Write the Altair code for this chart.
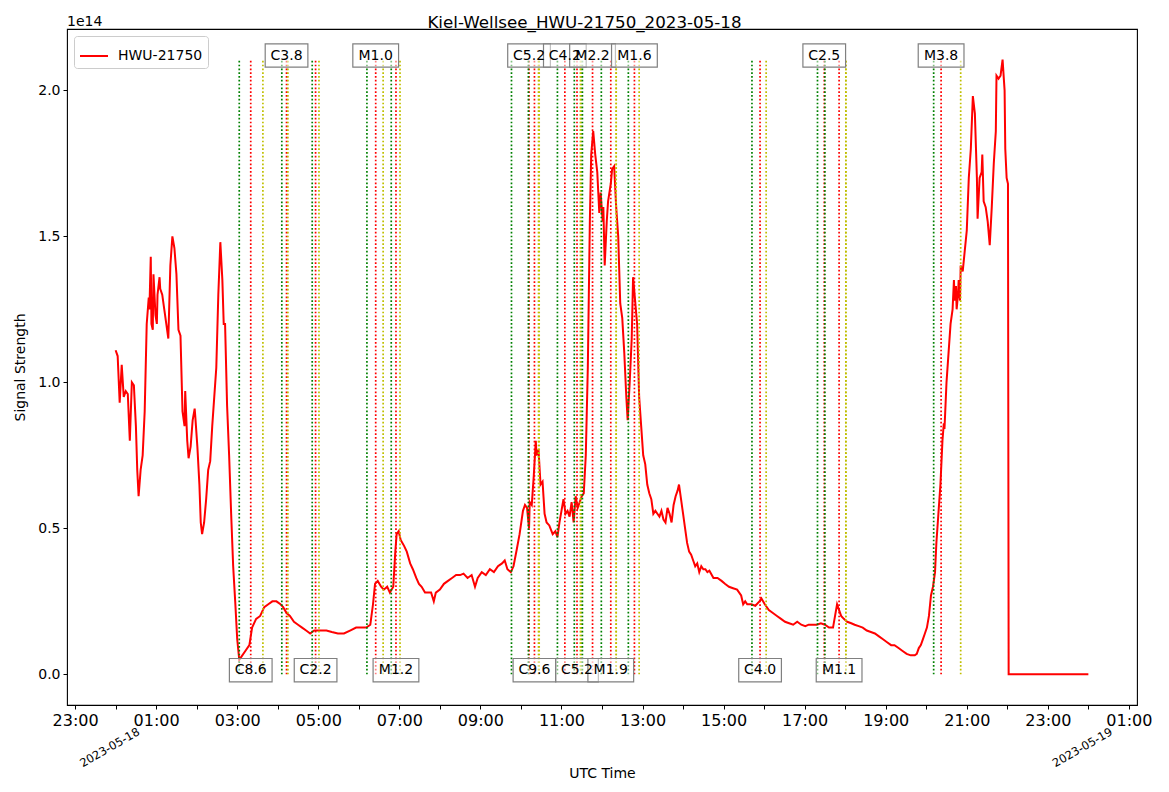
import altair as alt
import pandas as pd

# ---------------- data ----------------
# signal: minutes after 2023-05-18 00:00 UTC, value in units of 1e14
sig_min = [0, 3, 6, 9, 12, 15, 18, 21, 24, 27, 30, 32, 34, 37, 40, 43, 46, 49, 50, 52,
           53, 55, 56, 59, 61, 62, 65, 66, 69, 72, 75, 78, 81, 84, 87, 90, 93, 96, 99, 102,
           103, 106, 108, 111, 114, 117, 118, 121, 124, 126, 128, 131, 134, 137, 140, 143, 146, 149, 152, 155,
           158, 160, 162, 165, 168, 171, 174, 177, 180, 183, 186, 192, 198, 202, 208, 214, 220, 226, 232, 238,
           244, 248, 253, 258, 264, 270, 276, 282, 288, 294, 303, 312, 320, 329, 338, 347, 356, 365, 371, 377,
           381, 384, 388, 393, 397, 402, 406, 411, 414, 416, 419, 422, 427, 431, 436, 440, 445, 449, 453, 458,
           462, 467, 471, 474, 480, 486, 492, 498, 504, 510, 515, 521, 527, 532, 536, 542, 548, 554, 560, 566,
           572, 576, 580, 585, 589, 594, 598, 603, 606, 609, 612, 613, 616, 619, 622, 623, 626, 629, 632, 635,
           638, 642, 647, 651, 654, 657, 660, 663, 666, 669, 672, 675, 678, 681, 684, 687, 690, 693, 696, 699,
           702, 704, 707, 710, 713, 716, 718, 721, 722, 724, 727, 729, 733, 735, 738, 741, 744, 747, 750, 753,
           756, 758, 761, 764, 766, 769, 772, 775, 778, 781, 784, 787, 790, 793, 796, 799, 802, 805, 808, 811,
           814, 817, 820, 823, 826, 829, 832, 834, 837, 840, 843, 846, 849, 852, 855, 858, 861, 864, 867, 870,
           873, 876, 879, 885, 891, 897, 902, 908, 914, 920, 926, 929, 932, 935, 941, 947, 953, 956, 961, 967,
           973, 979, 985, 991, 997, 1003, 1009, 1015, 1021, 1026, 1032, 1038, 1044, 1050, 1056, 1062, 1065, 1068, 1071, 1074,
           1078, 1083, 1089, 1094, 1100, 1106, 1112, 1118, 1124, 1130, 1136, 1142, 1148, 1153, 1159, 1165, 1171, 1177, 1183, 1186,
           1189, 1192, 1195, 1198, 1201, 1204, 1207, 1210, 1213, 1215, 1218, 1221, 1224, 1226, 1227, 1230, 1233, 1236, 1239, 1241,
           1242, 1244, 1245, 1247, 1248, 1250, 1251, 1254, 1257, 1260, 1263, 1266, 1269, 1272, 1275, 1276, 1279, 1282, 1283, 1285,
           1288, 1291, 1294, 1297, 1300, 1303, 1304, 1307, 1310, 1313, 1316, 1317, 1319, 1321, 1322, 1440]
sig_val = [1.11, 1.09, 0.93, 1.06, 0.95, 0.97, 0.96, 0.80, 1.00, 0.99, 0.85, 0.70, 0.61, 0.70, 0.75, 0.90, 1.20, 1.29, 1.25, 1.43,
           1.20, 1.18, 1.37, 1.23, 1.20, 1.30, 1.36, 1.32, 1.30, 1.25, 1.20, 1.15, 1.40, 1.50, 1.46, 1.37, 1.18, 1.16, 0.90, 0.85,
           0.97, 0.80, 0.74, 0.78, 0.87, 0.91, 0.88, 0.78, 0.65, 0.52, 0.48, 0.52, 0.60, 0.70, 0.73, 0.85, 0.95, 1.05, 1.30, 1.48,
           1.35, 1.20, 1.20, 0.92, 0.75, 0.55, 0.37, 0.25, 0.12, 0.05, 0.06, 0.08, 0.10, 0.16, 0.19, 0.20, 0.23, 0.24, 0.25, 0.25,
           0.24, 0.23, 0.21, 0.20, 0.18, 0.17, 0.16, 0.15, 0.14, 0.15, 0.15, 0.15, 0.145, 0.14, 0.14, 0.15, 0.16, 0.16, 0.16, 0.17,
           0.24, 0.31, 0.32, 0.30, 0.29, 0.30, 0.28, 0.30, 0.42, 0.48, 0.49, 0.46, 0.44, 0.42, 0.38, 0.36, 0.33, 0.31, 0.30, 0.28,
           0.28, 0.28, 0.25, 0.28, 0.29, 0.31, 0.32, 0.33, 0.34, 0.34, 0.345, 0.33, 0.34, 0.30, 0.33, 0.35, 0.34, 0.36, 0.35, 0.37,
           0.38, 0.39, 0.36, 0.35, 0.37, 0.43, 0.48, 0.56, 0.58, 0.57, 0.50, 0.59, 0.58, 0.68, 0.80, 0.75, 0.77, 0.65, 0.66, 0.55,
           0.52, 0.51, 0.48, 0.49, 0.47, 0.52, 0.56, 0.60, 0.55, 0.56, 0.54, 0.59, 0.52, 0.61, 0.57, 0.59, 0.61, 0.62, 0.75, 1.05,
           1.55, 1.78, 1.86, 1.78, 1.72, 1.58, 1.65, 1.55, 1.60, 1.40, 1.55, 1.62, 1.68, 1.73, 1.74, 1.60, 1.50, 1.27, 1.22, 1.10,
           0.95, 0.87, 1.00, 1.15, 1.36, 1.28, 1.20, 0.95, 0.85, 0.75, 0.72, 0.65, 0.62, 0.60, 0.55, 0.56, 0.55, 0.54, 0.56, 0.53,
           0.52, 0.57, 0.55, 0.52, 0.58, 0.61, 0.63, 0.65, 0.60, 0.55, 0.50, 0.45, 0.42, 0.41, 0.39, 0.37, 0.38, 0.35, 0.37, 0.36,
           0.36, 0.35, 0.355, 0.33, 0.33, 0.32, 0.31, 0.30, 0.295, 0.29, 0.27, 0.24, 0.25, 0.24, 0.24, 0.235, 0.25, 0.26, 0.24, 0.22,
           0.21, 0.20, 0.19, 0.18, 0.175, 0.17, 0.18, 0.17, 0.165, 0.17, 0.17, 0.17, 0.175, 0.17, 0.16, 0.16, 0.20, 0.24, 0.22, 0.20,
           0.19, 0.18, 0.175, 0.17, 0.165, 0.16, 0.15, 0.145, 0.14, 0.13, 0.12, 0.11, 0.10, 0.10, 0.09, 0.08, 0.07, 0.065, 0.065, 0.07,
           0.09, 0.10, 0.12, 0.14, 0.16, 0.20, 0.27, 0.30, 0.35, 0.45, 0.55, 0.65, 0.80, 0.86, 0.84, 1.00, 1.10, 1.20, 1.25, 1.35,
           1.28, 1.33, 1.25, 1.30, 1.35, 1.28, 1.40, 1.38, 1.45, 1.52, 1.70, 1.80, 1.98, 1.92, 1.70, 1.56, 1.70, 1.72, 1.78, 1.62,
           1.60, 1.55, 1.47, 1.60, 1.75, 1.86, 2.05, 2.04, 2.05, 2.105, 2.00, 1.80, 1.70, 1.68, 0.00, 0.00]

# flare events (UTC, 2023-05-18)
ev_label = ["C8.6", "C3.8", "C2.2", "M1.0", "M1.2", "C5.2", "C9.6", "C4.2",
            "C5.2", "M2.2", "M1.9", "M1.6", "C4.0", "C2.5", "M1.1", "M3.8"]
ev_start = ["03:03", "04:06", "04:51", "06:12", "06:48", "09:46", "10:11", "10:54",
            "11:19", "11:31", "11:59", "12:39", "15:42", "17:19", "17:30", "20:11"]
ev_peak = ["03:20", "04:13", "04:56", "06:25", "06:55", "10:12", "10:20", "11:05",
           "11:23", "11:46", "12:13", "12:48", "15:54", "17:29", "17:51", "20:22"]
ev_end = ["03:38", "04:15", "05:01", "06:36", "07:01", "10:26", "10:27", "11:28",
          "11:29", "12:21", "12:21", "12:55", "16:03", "18:01", "18:01", "20:51"]

day_labels = ["2023-05-18", "2023-05-19"]
station = "HWU-21750"
title_text = "Kiel-Wellsee_HWU-21750_2023-05-18"

# ---------------- build tables ----------------
assert len(sig_min) == len(sig_val), (len(sig_min), len(sig_val))
base = pd.Timestamp("2023-05-18T00:00:00", tz="UTC")


def iso(ts):
    return ts.strftime("%Y-%m-%dT%H:%M:%SZ")


sig_df = pd.DataFrame({
    "t": [iso(base + pd.Timedelta(minutes=m)) for m in sig_min],
    "v": sig_val,
    "series": station,
})
ymax = max(sig_val)

rows = []
for s, p, e in zip(ev_start, ev_peak, ev_end):
    for kind, hm in (("start", s), ("peak", p), ("end", e)):
        rows.append({"t": f"2023-05-18T{hm}:00Z", "kind": kind, "y0": 0.0, "y1": ymax})
vl_df = pd.DataFrame(rows)

lab_df = pd.DataFrame({
    "t": [f"2023-05-18T{p}:00Z" for p in ev_peak],
    "label": ev_label,
    "cls": [l[0] for l in ev_label],
    "y": [ymax if i % 2 else 0.0 for i in range(len(ev_label))],
})

day_df = pd.DataFrame({
    "t": [d + "T00:00:00Z" for d in day_labels],
    "label": day_labels,
})

FONT = "DejaVu Sans"
W, H = 1070, 676
PAD_L, PAD_T = 59, 21
FIG_W = 1169 - 16
xdom = [alt.DateTime(year=2023, month=5, date=17, hours=22, minutes=48, utc=True),
        alt.DateTime(year=2023, month=5, date=19, hours=1, minutes=12, utc=True)]
xscale = alt.Scale(type="utc", domain=xdom)
yscale = alt.Scale(domain=[-0.105, 2.21], nice=False, zero=False)

tick_vals = [int((pd.Timestamp("2023-05-17T23:00:00", tz="UTC") + pd.Timedelta(hours=h)).value // 10**6)
             for h in range(27)]

x_axis = alt.Axis(
    values=tick_vals,
    labelExpr="utchours(datum.value) % 2 == 1 ? utcFormat(datum.value, '%H:%M') : ''",
    labelFontSize=16, labelFont=FONT, labelColor="black", labelPadding=3,
    labelOverlap=False, labelFlush=False, labelAngle=0,
    tickColor="black", tickSize=4, tickWidth=1, domain=False, grid=False,
    title="UTC Time", titleFont=FONT, titleFontSize=14, titleFontWeight="normal",
    titleColor="black", titlePadding=38,
)
y_axis = alt.Axis(
    values=[0, 0.5, 1.0, 1.5, 2.0], format=".1f",
    labelFontSize=14, labelFont=FONT, labelColor="black", labelPadding=3,
    tickColor="black", tickSize=4, tickWidth=1, domain=False, grid=False,
    title="Signal Strength", titleFont=FONT, titleFontSize=14, titleFontWeight="normal",
    titleColor="black", titlePadding=10,
)

line = alt.Chart(sig_df).mark_line(strokeWidth=2).encode(
    x=alt.X("t:T", scale=xscale, axis=x_axis),
    y=alt.Y("v:Q", scale=yscale, axis=y_axis),
    color=alt.Color("series:N", scale=alt.Scale(domain=[station], range=["red"]),
                    legend=alt.Legend(
                        title=None, orient="none", legendX=7, legendY=7,
                        fillColor="white", strokeColor="#cccccc", cornerRadius=3,
                        padding=5, labelFont=FONT, labelFontSize=14, labelColor="black",
                        symbolType="stroke", symbolSize=784, symbolStrokeWidth=2,
                        labelOffset=9, labelLimit=300,
                    )),
)

vlines = alt.Chart(vl_df).mark_rule(strokeWidth=1.7, strokeDash=[1.7, 2.1]).encode(
    x=alt.X("t:T", scale=xscale),
    y=alt.Y("y0:Q", scale=yscale),
    y2="y1:Q",
    color=alt.Color("kind:N", scale=alt.Scale(domain=["start", "peak", "end"],
                                              range=["#008000", "#ff0000", "#bfbf00"]),
                    legend=None),
)

pathC = "M-0.97,-0.72H0.97V0.34H-0.97Z"
pathM = "M-1.04,-0.72H1.04V0.34H-1.04Z"
boxes = alt.Chart(lab_df).mark_point(
    size=1936, fill="white", fillOpacity=0.5, stroke="#808080", strokeWidth=1.2,
    strokeOpacity=1, opacity=1,
).encode(
    x=alt.X("t:T", scale=xscale),
    y=alt.Y("y:Q", scale=yscale),
    shape=alt.Shape("cls:N", scale=alt.Scale(domain=["C", "M"], range=[pathC, pathM]), legend=None),
)

texts = alt.Chart(lab_df).mark_text(
    font=FONT, fontSize=14, color="black", align="center", baseline="alphabetic",
).encode(
    x=alt.X("t:T", scale=xscale),
    y=alt.Y("y:Q", scale=yscale),
    text="label:N",
)

days = alt.Chart(day_df).mark_text(
    font=FONT, fontSize=11.5, color="black", align="right", baseline="middle",
    angle=330, dx=27,
).encode(
    x=alt.X("t:T", scale=xscale),
    y=alt.value(716),
    text="label:N",
)

offset_txt = alt.Chart(pd.DataFrame({"s": ["1e14"]})).mark_text(
    font=FONT, fontSize=14, color="black", align="left", baseline="bottom",
).encode(x=alt.value(0), y=alt.value(0), text="s:N")

# figure-level title, centred on the whole figure
title_mark = alt.Chart(pd.DataFrame({"s": [title_text]})).mark_text(
    font=FONT, fontSize=16.7, color="black", align="center", baseline="alphabetic",
).encode(x=alt.value(FIG_W / 2 - PAD_L), y=alt.value(-1), text="s:N")

chart = alt.layer(line, vlines, boxes, texts, days, offset_txt, title_mark).resolve_scale(
    color="independent", shape="independent"
).properties(
    width=W, height=H,
    autosize=alt.AutoSizeParams(type="none"),
    padding={"left": PAD_L, "top": PAD_T, "right": 24, "bottom": 79},
    background="white",
).configure_view(stroke="black", strokeWidth=1.1)

chart.save("out.html", embed_options={"renderer": "svg", "actions": False})
